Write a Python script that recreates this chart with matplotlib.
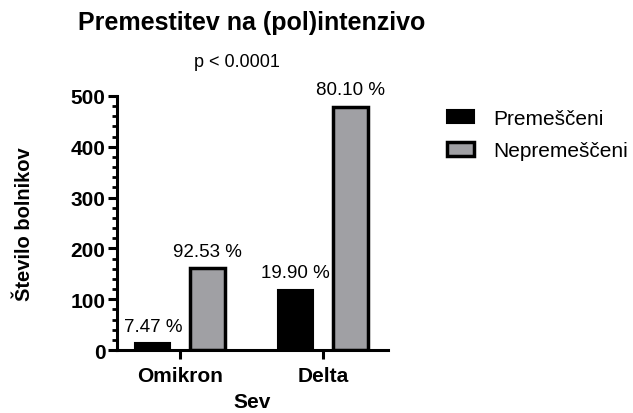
#!/usr/bin/env python3
import numpy as np
import matplotlib
matplotlib.use('Agg')
import matplotlib.pyplot as plt
from matplotlib.ticker import MultipleLocator

plt.rcParams['font.family'] = ['Liberation Sans', 'DejaVu Sans']

# data
strains = ['Omikron', 'Delta']
transferred = [13, 119]
not_transferred = [161, 479]
pct_transferred = ['7.47 %', '19.90 %']
pct_not_transferred = ['92.53 %', '80.10 %']
series_labels = ['Premeščeni', 'Nepremeščeni']

fig = plt.figure(figsize=(6.33, 4.14), dpi=100)
ax = fig.add_axes([0.185, 0.152, 0.428, 0.614])

x = np.arange(len(strains))
width = 0.245
offset = 0.19

b1 = ax.bar(x - offset, transferred, width, color='black', edgecolor='black',
            linewidth=1.5, label=series_labels[0])
b2 = ax.bar(x + offset, not_transferred, width, color='#a0a0a4', edgecolor='black',
            linewidth=2.5, label=series_labels[1])

# percentage labels above bars
for bars, labels in ((b1, pct_transferred), (b2, pct_not_transferred)):
    for rect, lab in zip(bars, labels):
        ax.annotate(lab, (rect.get_x() + rect.get_width() / 2, rect.get_height()),
                    xytext=(0, 12), textcoords='offset points',
                    ha='center', va='center', fontsize=13.5)

ax.set_xlim(-0.44, 1.455)
ax.set_ylim(0, 500)
ax.set_xticks(x)
ax.set_xticklabels(strains, fontsize=15, fontweight='bold')
ax.yaxis.set_major_locator(MultipleLocator(100))
ax.yaxis.set_minor_locator(MultipleLocator(20))
for lab in ax.get_yticklabels():
    lab.set_fontweight('bold')
    lab.set_fontsize(15)

ax.spines['top'].set_visible(False)
ax.spines['right'].set_visible(False)
ax.spines['left'].set_linewidth(2.2)
ax.spines['bottom'].set_linewidth(2.2)
ax.tick_params(axis='y', which='major', length=6.5, width=2.2, pad=2)
ax.tick_params(axis='x', which='major', length=6.5, width=2.2, pad=5)
ax.tick_params(axis='y', which='minor', length=3.5, width=2.0)

# x label sits close to the bottom edge, as in the original
ax.set_xlabel('Sev', fontsize=15, fontweight='bold', labelpad=5)
ax.set_ylabel('Število bolnikov', fontsize=14.5, fontweight='bold', labelpad=26)

fig.text(0.398, 0.945, 'Premestitev na (pol)intenzivo', ha='center', va='center',
         fontsize=18, fontweight='bold')
fig.text(0.375, 0.85, 'p < 0.0001', ha='center', va='center', fontsize=13)

ax.legend(loc='upper left', bbox_to_anchor=(0.677, 0.78),
          bbox_transform=fig.transFigure, frameon=False, fontsize=15,
          handlelength=1.3, handleheight=0.6, handletextpad=0.9,
          labelspacing=0.65)

fig.savefig('out.png', dpi=100)
